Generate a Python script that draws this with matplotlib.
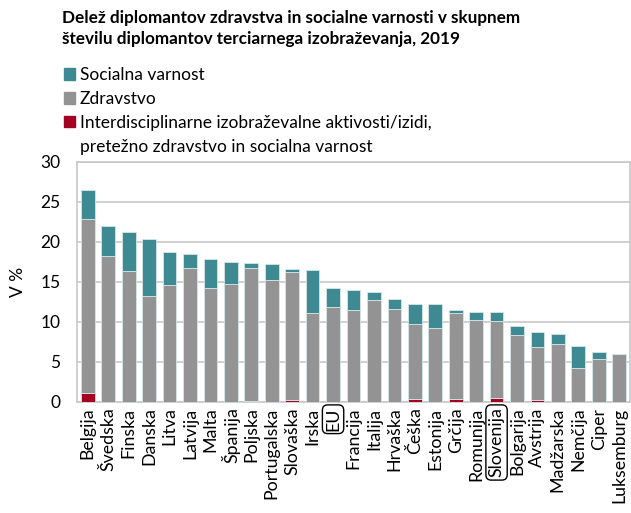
import matplotlib
matplotlib.use('Agg')
import matplotlib.pyplot as plt
import matplotlib.patches as mpatches
import numpy as np

plt.rcParams['font.family'] = ['Lato', 'DejaVu Sans']

countries = ['Belgija', 'Švedska', 'Finska', 'Danska', 'Litva', 'Latvija', 'Malta',
             'Španija', 'Poljska', 'Portugalska', 'Slovaška', 'Irska', 'EU', 'Francija',
             'Italija', 'Hrvaška', 'Češka', 'Estonija', 'Grčija', 'Romunija', 'Slovenija',
             'Bolgarija', 'Avstrija', 'Madžarska', 'Nemčija', 'Ciper', 'Luksemburg']

# stacked values (%), bottom to top
interdisc = [1.15, 0.0, 0.0, 0.0, 0.0, 0.0, 0.0, 0.0, 0.1, 0.0, 0.25, 0.0, 0.0, 0.0,
             0.0, 0.0, 0.35, 0.0, 0.35, 0.0, 0.45, 0.0, 0.25, 0.0, 0.0, 0.0, 0.0]
zdravstvo = [21.75, 18.2, 16.4, 13.2, 14.6, 16.8, 14.2, 14.8, 16.7, 15.2, 15.95, 11.1, 11.9, 11.5,
             12.7, 11.6, 9.35, 9.2, 10.75, 10.2, 9.65, 8.4, 6.65, 7.3, 4.3, 5.4, 5.95]
socialna = [3.6, 3.8, 4.9, 7.2, 4.1, 1.7, 3.7, 2.7, 0.6, 2.1, 0.4, 5.4, 2.3, 2.5,
            1.0, 1.3, 2.5, 3.0, 0.4, 1.1, 1.1, 1.1, 1.85, 1.2, 2.75, 0.9, 0.0]

col_soc = '#3d8a92'
col_zdr = '#939393'
col_int = '#a50021'

fig = plt.figure(figsize=(6.31, 5.13), dpi=100)
ax = fig.add_axes([77/631, 1-402/513, 553/631, 240/513])

x = np.arange(len(countries))
w = 0.67
ec = '#d6e6e8'
ax.bar(x, interdisc, w, color=col_int, edgecolor=ec, linewidth=0.6, zorder=3)
ax.bar(x, zdravstvo, w, bottom=interdisc, color=col_zdr, edgecolor=ec, linewidth=0.6, zorder=3)
bot = np.array(interdisc) + np.array(zdravstvo)
ax.bar(x, socialna, w, bottom=bot, color=col_soc, edgecolor=ec, linewidth=0.6, zorder=3)

ax.set_xlim(-0.53, len(countries) - 0.47)
ax.set_ylim(0, 30)
ax.set_yticks(range(0, 31, 5))
ax.yaxis.grid(True, color='#c8c8c8', linewidth=1.2, zorder=0)
for s in ax.spines.values():
    s.set_color('#c8c8c8')
    s.set_linewidth(1.2)
ax.tick_params(axis='y', labelsize=12.5, length=0, pad=12)
ax.tick_params(axis='x', length=0, labelsize=12.8, pad=4)
ax.set_xticks(x)
ax.set_xticklabels(countries, rotation=90)
for lab in ax.get_xticklabels():
    if lab.get_text() in ('EU', 'Slovenija'):
        lab.set_bbox(dict(boxstyle='round,pad=0.15,rounding_size=0.3', fc='none', ec='black', lw=1))
ax.set_ylabel('V %', fontsize=12.5, labelpad=10)

fig.text(62/631, 1-10/513, 'Delež diplomantov zdravstva in socialne varnosti v skupnem\n'
         'številu diplomantov terciarnega izobraževanja, 2019',
         fontsize=12.3, fontweight='bold', va='top', ha='left', linespacing=1.35)

handles = [mpatches.Patch(color=col_soc), mpatches.Patch(color=col_zdr),
           mpatches.Patch(color=col_int), mpatches.Patch(color='none')]
labels = ['Socialna varnost', 'Zdravstvo',
          'Interdisciplinarne izobraževalne aktivosti/izidi,',
          'pretežno zdravstvo in socialna varnost']
fig.legend(handles, labels, loc='upper left', bbox_to_anchor=(52/631, 1-55/513),
           frameon=False, fontsize=12.5, handlelength=0.65, handleheight=0.65,
           handletextpad=0.25, labelspacing=0.45, borderpad=0.2)

plt.savefig('out.png', dpi=100)
plt.close('all')
